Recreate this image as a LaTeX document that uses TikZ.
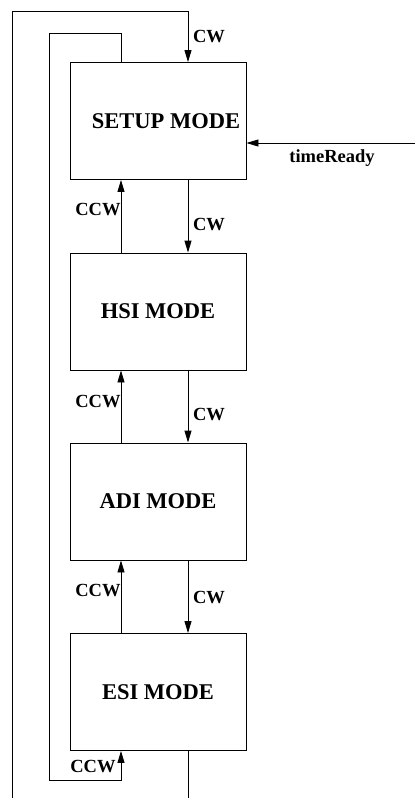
\documentclass[tikz,border=0pt]{standalone}
\usepackage{fontspec}
\setmainfont{Liberation Serif}
\usetikzlibrary{arrows.meta,positioning,calc}

\tikzset{
  modebox/.style={draw,line width=0.9pt,minimum width=176pt,minimum height=117pt,
    inner sep=0pt,font=\fontsize{22.5}{26}\selectfont\bfseries},
  arr/.style={line width=0.9pt,-{Triangle[length=12pt,width=7pt]}},
  plain/.style={line width=0.9pt},
  lbl/.style={font=\fontsize{18.5}{21}\selectfont\bfseries,inner sep=0pt}
}

\begin{document}
\begin{tikzpicture}[x=1pt,y=-1pt]
        \useasboundingbox (0,0) rectangle (415,798);
        % modes
        \node[modebox] (setup) at (158,121) {\hspace*{16pt}SETUP MODE};
        \node[modebox] (hsi) at (158,311.5) {HSI MODE};
        \node[modebox] (adi) at (158,501.5) {ADI MODE};
        \node[modebox] (esi) at (158,692) {ESI MODE};
        % loop corners
        \coordinate (outbot) at (12,798);
        \coordinate (outtl) at (12,11);
        \coordinate (outtr) at (188,11);
        \coordinate (esibot) at (188,798);
        \coordinate (intr) at (121,33);
        \coordinate (intl) at (49,33);
        \coordinate (inbl) at (49,780);
        \coordinate (inbr) at (121,780);
        \coordinate (tready) at (415,143);
        % CW / CCW between modes
        \draw[arr] ([xshift=30pt]setup.south) -- ([xshift=30pt]hsi.north);
        \draw[arr] ([xshift=30pt]hsi.south) -- ([xshift=30pt]adi.north);
        \draw[arr] ([xshift=30pt]adi.south) -- ([xshift=30pt]esi.north);
        \draw[arr] ([xshift=-37pt]hsi.north) -- ([xshift=-37pt]setup.south);
        \draw[arr] ([xshift=-37pt]adi.north) -- ([xshift=-37pt]hsi.south);
        \draw[arr] ([xshift=-37pt]esi.north) -- ([xshift=-37pt]adi.south);
        % wrap around
        \draw[arr] (outbot) -- (outtl) -- (outtr) -- ([xshift=30pt]setup.north);
        \draw[plain] ([xshift=30pt]esi.south) -- (esibot);
        \draw[arr] ([xshift=-37pt]setup.north) -- (intr) -- (intl) -- (inbl) -- (inbr)
          -- ([xshift=-37pt]esi.south);
        \draw[arr] (tready) -- (tready -| setup.east);
        % labels
        \node[lbl] (cw0) at (209,37) {CW};
        \node[lbl] (ccw1) at (98,210) {CCW};
        \node[lbl] (cw1) at (209,225) {CW};
        \node[lbl] (ccw2) at (98,402) {CCW};
        \node[lbl] (cw2) at (209,415) {CW};
        \node[lbl] (ccw3) at (98,591) {CCW};
        \node[lbl] (cw3) at (209,598) {CW};
        \node[lbl] (ccw4) at (93,767) {CCW};
        \node[lbl] (trlbl) at (332,158) {timeReady};
      \end{tikzpicture}
\end{document}
